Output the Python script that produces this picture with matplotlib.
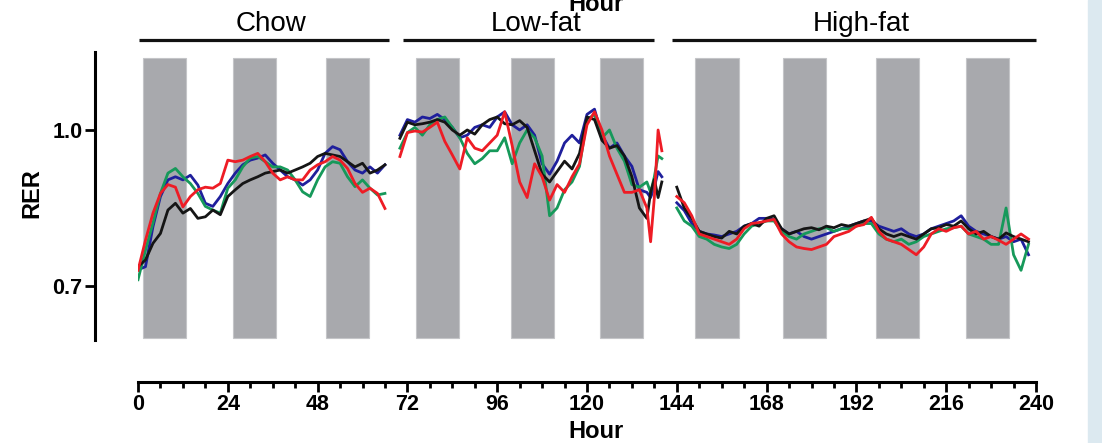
import numpy as np
import matplotlib
matplotlib.use("Agg")
import matplotlib.pyplot as plt
from matplotlib.patches import Rectangle

plt.rcParams['font.family'] = ['Liberation Sans', 'DejaVu Sans']

# diet phases
diets = ['Chow', 'Low-fat', 'High-fat']
diet_start = [0.3, 70.8, 142.7]
diet_end = [67.0, 137.9, 240.0]

# dark periods (grey bars), hour at start of each
dark_start = [1.3, 25.4, 50.2, 74.3, 99.7, 123.5, 148.9, 172.4, 197.2, 221.3]
dark_len = 11.6

# chow phase
chow_h = np.arange(0, 67, 2)
chow_blue = [0.731, 0.737, 0.814, 0.872, 0.904, 0.910, 0.904, 0.913, 0.894, 0.859, 0.853, 0.872,
             0.897, 0.917, 0.933, 0.942, 0.946, 0.952, 0.936, 0.923, 0.910, 0.904, 0.894, 0.904,
             0.923, 0.955, 0.968, 0.962, 0.939, 0.923, 0.917, 0.929, 0.917, 0.933]
chow_green = [0.712, 0.769, 0.821, 0.878, 0.917, 0.926, 0.910, 0.897, 0.878, 0.853, 0.846, 0.840,
              0.888, 0.904, 0.929, 0.946, 0.949, 0.939, 0.929, 0.929, 0.923, 0.904, 0.881, 0.872,
              0.904, 0.929, 0.939, 0.936, 0.910, 0.891, 0.904, 0.888, 0.875, 0.878]
chow_black = [0.737, 0.750, 0.782, 0.801, 0.846, 0.859, 0.840, 0.849, 0.830, 0.833, 0.846, 0.837,
              0.872, 0.885, 0.897, 0.904, 0.910, 0.917, 0.920, 0.923, 0.917, 0.923, 0.929, 0.936,
              0.949, 0.955, 0.952, 0.949, 0.939, 0.929, 0.936, 0.917, 0.923, 0.933]
chow_red = [0.730, 0.788, 0.840, 0.878, 0.895, 0.890, 0.852, 0.872, 0.885, 0.890, 0.888, 0.897,
            0.942, 0.939, 0.942, 0.949, 0.955, 0.939, 0.917, 0.904, 0.910, 0.904, 0.904, 0.923,
            0.933, 0.939, 0.949, 0.942, 0.926, 0.897, 0.880, 0.888, 0.878, 0.849]

# low-fat phase
lf_h = list(range(70, 137, 2)) + [137, 138, 139, 140]
lf_blue = [0.990, 1.020, 1.015, 1.025, 1.022, 1.030, 1.020, 1.005, 0.985, 0.990, 1.005, 1.010,
           1.005, 1.025, 1.035, 1.010, 1.000, 1.010, 0.990, 0.935, 0.915, 0.940, 0.975, 0.990,
           0.975, 1.030, 1.040, 0.990, 0.965, 0.975, 0.950, 0.930, 0.885, 0.880,
           0.870, 0.890, 0.920, 0.910]
lf_green = [0.965, 0.995, 1.005, 0.990, 1.010, 1.020, 1.025, 1.005, 0.985, 0.955, 0.935, 0.945,
            0.960, 0.960, 0.985, 0.935, 0.975, 1.000, 0.985, 0.950, 0.835, 0.850, 0.885, 0.900,
            0.930, 1.020, 1.030, 0.985, 1.000, 0.965, 0.940, 0.895, 0.890, 0.900,
            0.880, 0.910, 0.950, 0.945]
lf_black = [0.984, 1.015, 1.010, 1.012, 1.015, 1.020, 1.015, 1.000, 0.990, 1.000, 0.992, 1.010,
            1.020, 1.025, 1.012, 1.010, 1.018, 1.005, 0.960, 0.915, 0.900, 0.920, 0.940, 0.925,
            0.955, 1.025, 1.020, 0.980, 0.965, 0.970, 0.950, 0.910, 0.850, 0.830,
            0.880, 0.905, 0.870, 0.900]
lf_red = [0.949, 0.995, 0.998, 0.996, 1.005, 1.015, 0.978, 0.952, 0.925, 0.985, 0.965, 0.960,
          0.975, 0.990, 1.035, 0.970, 0.900, 0.870, 0.935, 0.910, 0.865, 0.895, 0.880, 0.910,
          0.935, 1.010, 1.035, 1.000, 0.950, 0.915, 0.880, 0.880, 0.885, 0.850,
          0.785, 0.870, 1.000, 0.960]

# high-fat phase
hf_h = np.arange(144, 239, 2)
hf_blue = [0.860, 0.845, 0.820, 0.805, 0.800, 0.798, 0.795, 0.800, 0.805, 0.815, 0.820, 0.830,
           0.830, 0.828, 0.810, 0.800, 0.805, 0.795, 0.790, 0.795, 0.800, 0.805, 0.810, 0.815,
           0.820, 0.825, 0.825, 0.815, 0.810, 0.805, 0.810, 0.800, 0.795, 0.800, 0.810, 0.815,
           0.820, 0.825, 0.835, 0.815, 0.805, 0.800, 0.795, 0.790, 0.795, 0.785, 0.790, 0.760]
hf_green = [0.850, 0.825, 0.815, 0.795, 0.790, 0.780, 0.775, 0.772, 0.780, 0.800, 0.815, 0.820,
            0.825, 0.825, 0.805, 0.795, 0.790, 0.800, 0.805, 0.810, 0.812, 0.805, 0.810, 0.810,
            0.815, 0.820, 0.820, 0.800, 0.790, 0.785, 0.790, 0.780, 0.785, 0.795, 0.800, 0.805,
            0.810, 0.812, 0.815, 0.800, 0.795, 0.790, 0.780, 0.780, 0.850, 0.760, 0.730, 0.780]
hf_black = [0.890, 0.850, 0.830, 0.805, 0.800, 0.795, 0.792, 0.805, 0.800, 0.815, 0.820, 0.815,
            0.830, 0.835, 0.810, 0.800, 0.805, 0.810, 0.812, 0.808, 0.815, 0.812, 0.818, 0.815,
            0.820, 0.825, 0.830, 0.810, 0.800, 0.795, 0.800, 0.795, 0.790, 0.800, 0.810, 0.812,
            0.818, 0.815, 0.825, 0.810, 0.800, 0.805, 0.795, 0.790, 0.802, 0.795, 0.790, 0.785]
hf_red = [0.872, 0.860, 0.835, 0.800, 0.795, 0.790, 0.785, 0.780, 0.790, 0.810, 0.820, 0.822,
          0.825, 0.828, 0.800, 0.785, 0.775, 0.772, 0.770, 0.775, 0.780, 0.795, 0.800, 0.805,
          0.815, 0.818, 0.832, 0.805, 0.790, 0.785, 0.780, 0.770, 0.760, 0.775, 0.800, 0.810,
          0.805, 0.812, 0.815, 0.800, 0.805, 0.790, 0.795, 0.788, 0.780, 0.790, 0.800, 0.790]

colors = {'blue': '#1f1f9c', 'green': '#16995a', 'black': '#151515', 'red': '#ee1c25'}
phases = [
    (chow_h, {'blue': chow_blue, 'green': chow_green, 'black': chow_black, 'red': chow_red}),
    (lf_h, {'blue': lf_blue, 'green': lf_green, 'black': lf_black, 'red': lf_red}),
    (hf_h, {'blue': hf_blue, 'green': hf_green, 'black': hf_black, 'red': hf_red}),
]

fig = plt.figure(figsize=(11.02, 4.43), dpi=100)
ax = fig.add_axes([138 / 1102, 1 - 340 / 443, 898 / 1102, 288 / 443])
ax.set_xlim(0, 240)
ax.set_ylim(0.596, 1.15)

# dark periods
ax.bar(dark_start, 1.138 - 0.600, width=dark_len, bottom=0.600, align='edge',
       color='#a8a9ad', edgecolor='#c4c5c8', linewidth=0.8, zorder=1)

for hours, series in phases:
    for name in ['blue', 'green', 'black', 'red']:
        ax.plot(hours, series[name], color=colors[name], lw=2.0, zorder=3)

# spines
for s in ['top', 'right']:
    ax.spines[s].set_visible(False)
ax.spines['left'].set_position(('outward', 31))
ax.spines['bottom'].set_position(('outward', 30))
ax.spines['left'].set_linewidth(2.2)
ax.spines['bottom'].set_linewidth(2.2)
ax.spines['bottom'].set_bounds(0, 240)

ax.set_xticks(np.arange(0, 241, 24))
ax.set_xticks(np.arange(0, 241, 6), minor=True)
ax.set_yticks([0.7, 1.0])
ax.set_yticklabels(['0.7', '1.0'])
ax.tick_params(axis='both', which='major', width=2, length=7, labelsize=15.5, pad=2)
ax.tick_params(axis='x', which='minor', width=2, length=4)
for lbl in ax.get_xticklabels() + ax.get_yticklabels():
    lbl.set_fontweight('bold')

ax.set_xlabel('Hour', fontsize=17, fontweight='bold')
ax.xaxis.set_label_coords((596 - 138) / 898, (340 - 420) / 288)
ax.set_ylabel('RER', fontsize=17, fontweight='bold')
ax.yaxis.set_label_coords((43 - 138) / 898, 0.51)

# diet phase brackets and labels
for name, a, b in zip(diets, diet_start, diet_end):
    ax.plot([a, b], [1.173, 1.173], color='#111111', lw=2.3, clip_on=False,
            solid_capstyle='butt')
    ax.text((a + b) / 2 + 2, 1.178, name, ha='center', va='bottom', fontsize=20)

# cut-off axis title remnant at the top
fig.text(596 / 1102, 1 - 11 / 443, 'Hour', ha='center', va='baseline',
         fontsize=17, fontweight='bold')

# page background strip at the right
fig.patches.append(Rectangle((1088 / 1102, 0), 14 / 1102, 1, transform=fig.transFigure,
                             color='#dce9f0', zorder=0))

fig.savefig('out.png', dpi=100)
